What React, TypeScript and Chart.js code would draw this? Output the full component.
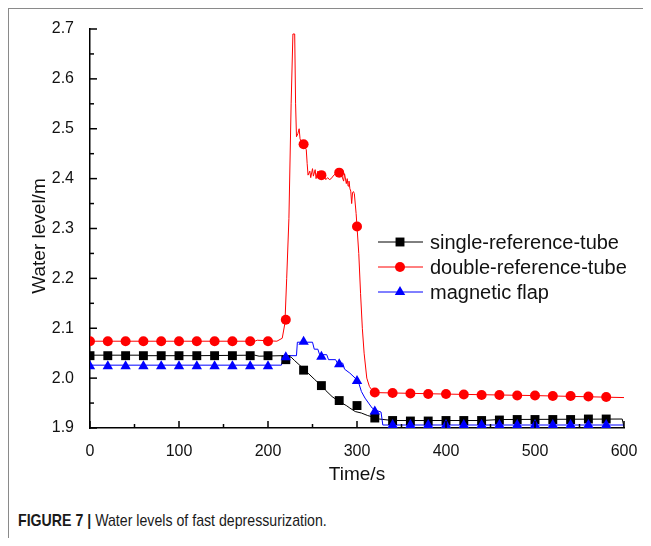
import React, { useEffect, useRef } from "react";
import { Chart, registerables } from "chart.js";

Chart.register(...registerables);

// ---------------- data ----------------
const xTicks = [0, 100, 200, 300, 400, 500, 600];
const yTicks = [1.9, 2.0, 2.1, 2.2, 2.3, 2.4, 2.5, 2.6, 2.7];

const singleTime = [0, 60, 62, 120, 185, 190, 215, 222, 226, 230, 238, 245, 252, 258, 265, 272, 280, 288, 292, 298, 305, 312, 318, 325, 340, 440, 460, 598, 600];
const singleLevel = [2.046, 2.046, 2.045, 2.045, 2.046, 2.044, 2.045, 2.044, 2.042, 2.035, 2.022, 2.01, 1.998, 1.988, 1.975, 1.963, 1.953, 1.945, 1.94, 1.933, 1.93, 1.925, 1.922, 1.918, 1.915, 1.915, 1.917, 1.918, 1.902];

const doubleTime = [0, 185, 188, 210, 216, 219, 221, 223.5, 226, 228, 230, 231, 232, 233.5, 235, 236, 238, 240, 243, 244, 245, 247, 248, 250, 251, 253, 254, 256, 258, 260, 263, 265, 267, 269, 271, 273, 276, 280, 283, 285, 286, 288, 289, 290, 291, 292, 293, 294, 295, 296, 297, 299, 300, 302, 304, 306, 308, 311, 314, 318, 320, 400, 500, 600];
const doubleLevel = [2.074, 2.074, 2.076, 2.074, 2.08, 2.11, 2.2, 2.32, 2.55, 2.69, 2.69, 2.55, 2.484, 2.49, 2.5, 2.48, 2.47, 2.469, 2.458, 2.43, 2.407, 2.415, 2.402, 2.42, 2.405, 2.418, 2.4, 2.415, 2.41, 2.407, 2.405, 2.398, 2.402, 2.398, 2.4, 2.405, 2.41, 2.412, 2.405, 2.395, 2.41, 2.39, 2.4, 2.385, 2.395, 2.38, 2.375, 2.35, 2.372, 2.374, 2.37, 2.33, 2.304, 2.25, 2.17, 2.1, 2.05, 2.0, 1.983, 1.973, 1.971, 1.968, 1.965, 1.961];

const flapTime = [0, 215, 218, 232, 233, 250, 252, 256, 258, 266, 268, 276, 278, 284, 286, 292, 298, 302, 305, 309, 313, 317, 322, 327, 329, 600];
const flapLevel = [2.026, 2.026, 2.045, 2.045, 2.072, 2.072, 2.058, 2.058, 2.047, 2.047, 2.037, 2.037, 2.03, 2.03, 2.018, 2.01, 2.0, 1.99, 1.973, 1.96, 1.95, 1.94, 1.935, 1.932, 1.906, 1.906];

const markerTime = [0, 20, 40, 60, 80, 100, 120, 140, 160, 180, 200, 220, 240, 260, 280, 300, 320, 340, 360, 380, 400, 420, 440, 460, 480, 500, 520, 540, 560, 580];
const singleMarker = [2.045, 2.045, 2.045, 2.045, 2.045, 2.045, 2.045, 2.045, 2.045, 2.045, 2.045, 2.037, 2.016, 1.985, 1.955, 1.945, 1.92, 1.915, 1.914, 1.914, 1.915, 1.915, 1.915, 1.916, 1.917, 1.917, 1.917, 1.917, 1.918, 1.918];
const doubleMarker = [2.074, 2.074, 2.074, 2.074, 2.074, 2.074, 2.074, 2.074, 2.074, 2.074, 2.074, 2.117, 2.469, 2.407, 2.412, 2.304, 1.971, 1.97, 1.969, 1.968, 1.968, 1.967, 1.966, 1.966, 1.965, 1.965, 1.964, 1.964, 1.963, 1.962];
const flapMarker = [2.024, 2.024, 2.024, 2.024, 2.024, 2.024, 2.024, 2.024, 2.024, 2.024, 2.024, 2.042, 2.073, 2.043, 2.028, 1.994, 1.933, 1.906, 1.906, 1.906, 1.906, 1.906, 1.906, 1.906, 1.906, 1.906, 1.906, 1.906, 1.906, 1.906];

const seriesNames = ["single-reference-tube", "double-reference-tube", "magnetic flap"];
const seriesColors = ["#000000", "#ff0000", "#0000ff"];
const seriesMarkers = ["rect", "circle", "triangle"];
const markerRadius = [6.3, 5, 6];

const xTitle = "Time/s";
const yTitle = "Water level/m";
const captionBold = "FIGURE 7 |";
const captionText = " Water levels of fast depressurization.";

const FONT = "'Liberation Sans', Arial, Helvetica, sans-serif";

const pts = (xs: number[], ys: number[]) => xs.map((x, i) => ({ x, y: ys[i] }));

const decorPlugin = {
  id: "decor",
  afterDraw(chart: any) {
    const { ctx, chartArea } = chart;
    const xs = chart.scales.x;
    const ys = chart.scales.y;
    ctx.save();
    ctx.strokeStyle = "#000";
    ctx.lineWidth = 1.5;
    const major = 7;
    const minor = 4;
    for (let i = 0; i < xTicks.length; i++) {
      const px = xs.getPixelForValue(xTicks[i]);
      ctx.beginPath();
      ctx.moveTo(px, chartArea.bottom);
      ctx.lineTo(px, chartArea.bottom - major);
      ctx.stroke();
      if (i < xTicks.length - 1) {
        const pm = xs.getPixelForValue((xTicks[i] + xTicks[i + 1]) / 2);
        ctx.beginPath();
        ctx.moveTo(pm, chartArea.bottom);
        ctx.lineTo(pm, chartArea.bottom - minor);
        ctx.stroke();
      }
    }
    for (let i = 0; i < yTicks.length; i++) {
      const py = ys.getPixelForValue(yTicks[i]);
      ctx.beginPath();
      ctx.moveTo(chartArea.left, py);
      ctx.lineTo(chartArea.left + major, py);
      ctx.stroke();
      if (i < yTicks.length - 1) {
        const pm = ys.getPixelForValue((yTicks[i] + yTicks[i + 1]) / 2);
        ctx.beginPath();
        ctx.moveTo(chartArea.left, pm);
        ctx.lineTo(chartArea.left + minor, pm);
        ctx.stroke();
      }
    }
    // y title
    ctx.fillStyle = "#111";
    ctx.font = `19px ${FONT}`;
    ctx.textAlign = "center";
    ctx.textBaseline = "middle";
    ctx.save();
    ctx.translate(31, 227);
    ctx.rotate(-Math.PI / 2);
    ctx.fillText(yTitle, 0, 0);
    ctx.restore();
    // legend
    const lx0 = 369, lx1 = 414, mx = 391, tx = 421;
    const rows = [233, 258, 283];
    for (let i = 0; i < seriesNames.length; i++) {
      const yy = rows[i];
      ctx.strokeStyle = seriesColors[i];
      ctx.lineWidth = 1;
      ctx.beginPath();
      ctx.moveTo(lx0, yy);
      ctx.lineTo(lx1, yy);
      ctx.stroke();
      ctx.fillStyle = seriesColors[i];
      ctx.beginPath();
      const r = markerRadius[i];
      if (seriesMarkers[i] === "rect") {
        const s = r * Math.SQRT1_2;
        ctx.rect(mx - s, yy - s, 2 * s, 2 * s);
      } else if (seriesMarkers[i] === "circle") {
        ctx.arc(mx, yy, r, 0, Math.PI * 2);
      } else {
        ctx.moveTo(mx, yy - r);
        ctx.lineTo(mx + r * Math.sin(Math.PI * 2 / 3), yy + r / 2);
        ctx.lineTo(mx - r * Math.sin(Math.PI * 2 / 3), yy + r / 2);
        ctx.closePath();
      }
      ctx.fill();
      ctx.fillStyle = "#111";
      ctx.font = `20px ${FONT}`;
      ctx.textAlign = "left";
      ctx.textBaseline = "middle";
      ctx.fillText(seriesNames[i], tx, yy + 1);
    }
    ctx.restore();
  },
};

export default function App() {
  const canvasRef = useRef<HTMLCanvasElement | null>(null);

  useEffect(() => {
    const canvas = canvasRef.current;
    if (!canvas) return;
    const markerSets = [2, 0, 1].map((i) => ({
      label: seriesNames[i] + " markers",
      data: pts(markerTime, [singleMarker, doubleMarker, flapMarker][i]),
      showLine: false,
      pointStyle: seriesMarkers[i],
      pointRadius: markerRadius[i],
      pointBackgroundColor: seriesColors[i],
      pointBorderColor: seriesColors[i],
      pointBorderWidth: 0,
      borderColor: seriesColors[i],
      backgroundColor: seriesColors[i],
    }));
    const lineSets = [
      { d: pts(flapTime, flapLevel), c: 2 },
      { d: pts(singleTime, singleLevel), c: 0 },
      { d: pts(doubleTime, doubleLevel), c: 1 },
    ].map((o) => ({
      label: seriesNames[o.c],
      data: o.d,
      showLine: true,
      pointRadius: 0,
      borderColor: seriesColors[o.c],
      borderWidth: 1,
      tension: 0,
      fill: false,
    }));

    const chart = new Chart(canvas, {
      type: "scatter",
      data: { datasets: [...markerSets, ...lineSets] as any },
      options: {
        animation: false,
        responsive: true,
        maintainAspectRatio: false,
        layout: { padding: { left: 0, right: 27, top: 20, bottom: 0 } },
        plugins: { legend: { display: false }, tooltip: { enabled: false } },
        scales: {
          x: {
            type: "linear",
            min: 0,
            max: 600,
            afterBuildTicks: (s: any) => {
              s.ticks = xTicks.map((v) => ({ value: v }));
            },
            afterFit: (s: any) => {
              s.height = 72;
            },
            grid: { display: false },
            border: { display: true, color: "#000", width: 1.5 },
            ticks: {
              color: "#111",
              font: { size: 16, family: FONT },
              padding: 6,
              maxRotation: 0,
              autoSkip: false,
              callback: (v: any) => String(Math.round(Number(v))),
            },
            title: {
              display: true,
              text: xTitle,
              color: "#111",
              font: { size: 19, family: FONT },
              padding: { top: 0, bottom: 14 },
            },
          },
          y: {
            type: "linear",
            min: 1.9,
            max: 2.7,
            afterBuildTicks: (s: any) => {
              s.ticks = yTicks.map((v) => ({ value: v }));
            },
            afterFit: (s: any) => {
              s.width = 81;
            },
            grid: { display: false },
            border: { display: true, color: "#000", width: 1.5 },
            ticks: {
              color: "#111",
              font: { size: 16, family: FONT },
              padding: 8,
              autoSkip: false,
              callback: (v: any) => Number(v).toFixed(1),
            },
          },
        },
      },
      plugins: [decorPlugin],
    });
    return () => chart.destroy();
  }, []);

  return (
    <div
      style={{
        position: "relative",
        width: 642,
        height: 529,
        borderLeft: "1px solid #8a8a8a",
        borderTop: "1px solid #8a8a8a",
        background: "#fff",
      }}
    >
      <div style={{ position: "absolute", left: 0, top: 0, width: 642, height: 491 }}>
        <canvas ref={canvasRef} />
      </div>
      <div
        style={{
          position: "absolute",
          left: 9,
          top: 502,
          whiteSpace: "nowrap",
          fontFamily: FONT,
          fontSize: 17,
          lineHeight: "20px",
          color: "#1a1a1a",
          transform: "scaleX(0.833)",
          transformOrigin: "left center",
        }}
      >
        <span style={{ fontWeight: "bold" }}>{captionBold}</span>
        {captionText}
      </div>
    </div>
  );
}
